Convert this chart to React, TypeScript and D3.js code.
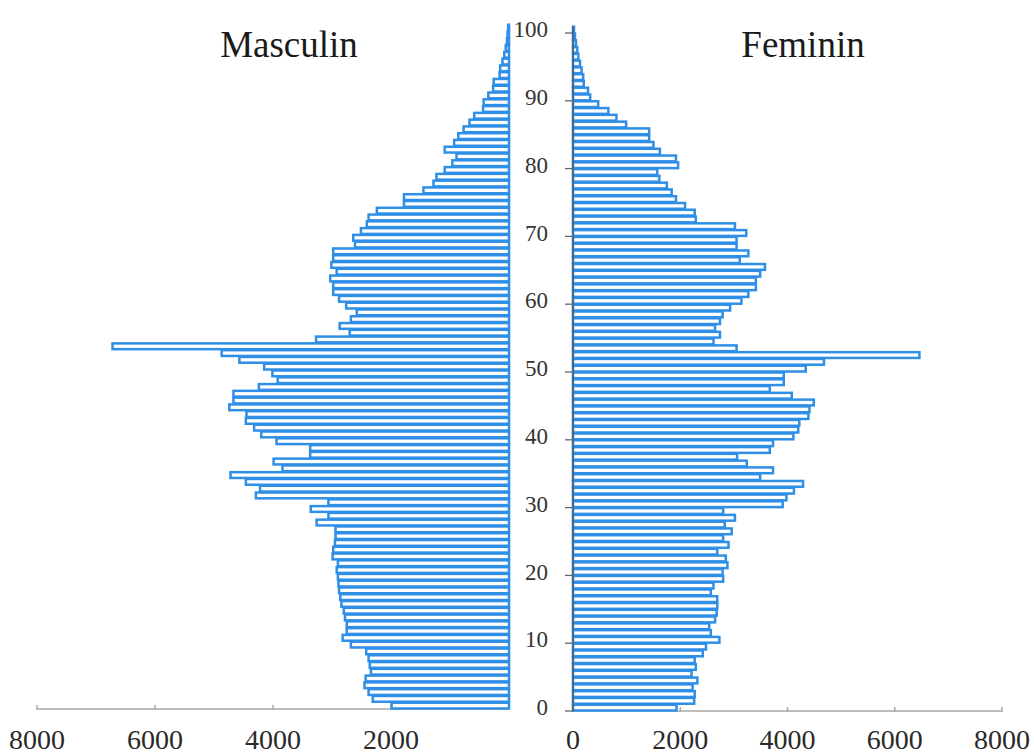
import * as d3 from 'd3';

// population by single year of age, 0..100
const masculin = [
  1990, 2310, 2380, 2450, 2430, 2340, 2360, 2380, 2420, 2680,
  2820, 2750, 2750, 2780, 2800, 2840, 2860, 2880, 2890, 2900,
  2920, 2900, 2990, 2980, 2950, 2940, 2940, 3260, 3060, 3360,
  3060, 4290, 4220, 4460, 4720, 3840, 3990, 3370, 3370, 3940,
  4200, 4320, 4460, 4450, 4740, 4670, 4670, 4240, 3920, 4010,
  4150, 4570, 4870, 6720, 3270, 2700, 2870, 2680, 2580, 2760,
  2880, 2980, 2980, 3030, 2920, 3010, 2980, 2980, 2610, 2640,
  2510, 2410, 2380, 2240, 1780, 1780, 1450, 1280, 1230, 1090,
  960, 890, 1090, 930, 860, 770, 670, 590, 440, 430,
  350, 270, 260, 160, 150, 110, 80, 55, 35, 25,
  15,
];

const feminin = [
  1930, 2260, 2270, 2230, 2320, 2210, 2290, 2270, 2420, 2480,
  2730, 2570, 2540, 2650, 2680, 2690, 2690, 2570, 2620, 2800,
  2790, 2880, 2850, 2690, 2900, 2800, 2960, 2830, 3020, 2800,
  3910, 3980, 4120, 4290, 3490, 3730, 3240, 3060, 3670, 3730,
  4110, 4200, 4220, 4390, 4410, 4490, 4080, 3670, 3930, 3930,
  4340, 4680, 6460, 3050, 2620, 2740, 2650, 2740, 2790, 2930,
  3140, 3270, 3410, 3410, 3490, 3580, 3110, 3270, 3050, 3050,
  3230, 3020, 2290, 2270, 2090, 1920, 1840, 1750, 1610, 1570,
  1960, 1920, 1620, 1500, 1420, 1420, 990, 810, 660, 470,
  320, 280, 200, 190, 160, 130, 100, 80, 56, 37,
  19,
];

const ageTicks = [0, 10, 20, 30, 40, 50, 60, 70, 80, 90, 100];
const popTicks = [0, 2000, 4000, 6000, 8000];

const W = 1034;
const H = 756;
const BAR = '#2f8ee5';
const FONT = '"Liberation Serif", "DejaVu Serif", serif';

export default function App() {
  // left (male) half grows to the left, right (female) half to the right
  const xL = d3.scaleLinear().domain([0, 8000]).range([509, 37]);
  const xR = d3.scaleLinear().domain([0, 8000]).range([573, 1002]);
  const yR = d3.scaleLinear().domain([0, 100]).range([711, 33]);
  const yL = d3.scaleLinear().domain([0, 100]).range([709, 31]);

  return (
    <svg
      width={W}
      height={H}
      style={{ position: 'absolute', left: 0, top: 0, background: '#fff' }}
      fontFamily={FONT}
    >
      {/* bottom axes */}
      <line x1={xL(8000)} x2={xL(0)} y1={yL(0)} y2={yL(0)} stroke="#a8a8a8" strokeWidth={1.5} />
      {popTicks.filter((t) => t > 0).map((t) => (
        <line key={'lt' + t} x1={xL(t)} x2={xL(t)} y1={yL(0) - 4} y2={yL(0) + 1} stroke="#a8a8a8" strokeWidth={1.5} />
      ))}
      <line x1={xR(0)} x2={xR(8000)} y1={yR(0)} y2={yR(0)} stroke="#a8a8a8" strokeWidth={1.5} />
      {popTicks.filter((t) => t > 0).map((t) => (
        <line key={'rt' + t} x1={xR(t)} x2={xR(t)} y1={yR(0) - 4} y2={yR(0) + 1} stroke="#a8a8a8" strokeWidth={1.5} />
      ))}

      {/* male bars */}
      {masculin.map((v, i) => (
        <rect
          key={'m' + i}
          x={xL(v)}
          y={yL(i + 1) + 0.5}
          width={xL(0) - xL(v)}
          height={yL(i) - yL(i + 1) - 1}
          fill="#fff"
          stroke={BAR}
          strokeWidth={2.5}
        />
      ))}

      {/* female bars */}
      {feminin.map((v, i) => (
        <rect
          key={'f' + i}
          x={xR(0)}
          y={yR(i + 1) + 0.5}
          width={xR(v) - xR(0)}
          height={yR(i) - yR(i + 1) - 1}
          fill="#fff"
          stroke={BAR}
          strokeWidth={2.5}
        />
      ))}

      {/* age axis */}
      <line x1={xR(0)} x2={xR(0)} y1={yR(0)} y2={yR(101)} stroke="#555" strokeWidth={1.3} />
      {ageTicks.map((t) => (
        <g key={'a' + t}>
          <line x1={xR(0) - 8} x2={xR(0)} y1={yR(t)} y2={yR(t)} stroke="#666" strokeWidth={1.3} />
          <text
            x={548}
            y={yR(t) - 1}
            textAnchor="end"
            dominantBaseline="middle"
            fontSize={23}
            fill="#333"
          >
            {t}
          </text>
        </g>
      ))}

      {/* bottom tick labels */}
      {popTicks.filter((t) => t > 0).map((t) => (
        <text key={'lx' + t} x={xL(t)} y={749} textAnchor="middle" fontSize={28} fill="#2a2a2a">
          {t}
        </text>
      ))}
      {popTicks.map((t) => (
        <text key={'rx' + t} x={xR(t)} y={749} textAnchor="middle" fontSize={28} fill="#2a2a2a">
          {t}
        </text>
      ))}

      {/* titles */}
      <text x={289} y={57} textAnchor="middle" fontSize={37} fill="#1a1a1a">
        Masculin
      </text>
      <text x={803} y={57} textAnchor="middle" fontSize={37} fill="#1a1a1a">
        Feminin
      </text>
    </svg>
  );
}
